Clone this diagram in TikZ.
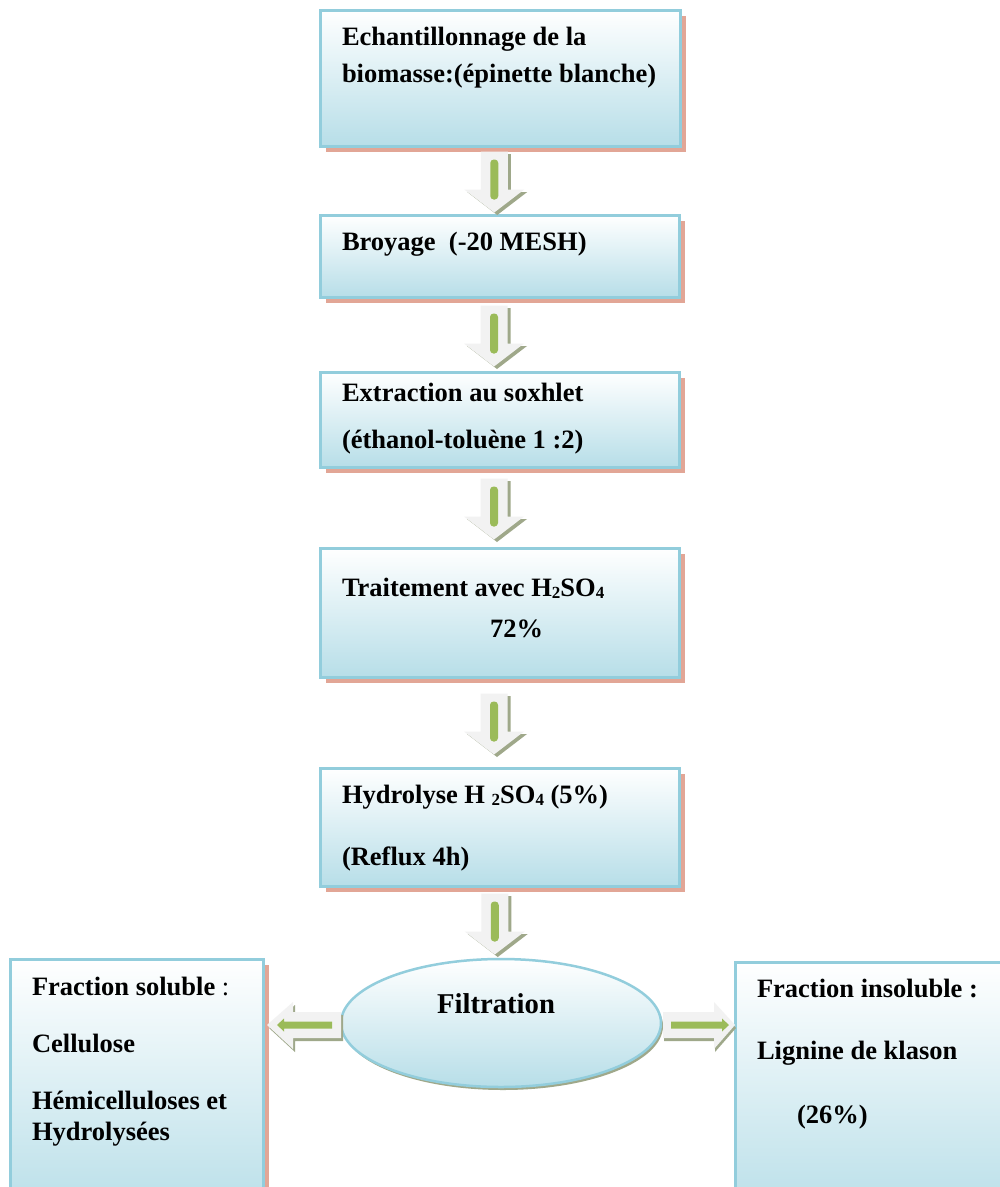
\documentclass[tikz,border=0pt]{standalone}
\usepackage{fontspec}
\setmainfont{Liberation Serif}
\usetikzlibrary{calc,shadows,shapes.geometric}
\definecolor{boxblue}{HTML}{B7DEE8}
\definecolor{boxborder}{HTML}{92CDDC}
\definecolor{boxshadow}{HTML}{E2A696}
\definecolor{arrbodyc}{HTML}{F2F2F2}
\definecolor{arrgreenc}{HTML}{9BBB59}
\definecolor{arrshadowc}{HTML}{9FA88A}
\newcommand\subd[1]{\raisebox{-2pt}{\fontsize{17}{17}\selectfont #1}}
\tikzset{
  pbox/.style={rectangle, draw=boxborder, line width=3pt, top color=white, bottom color=boxblue,
    outer sep=0pt, inner sep=0pt, anchor=north west,
    drop shadow={shadow xshift=5.5pt, shadow yshift=-5.5pt, fill=boxshadow, opacity=1}},
  txt/.style={font=\fontsize{26.5}{30}\selectfont\bfseries, anchor=base west, inner sep=0pt, outer sep=0pt},
  downarr/.pic={
    \fill[arrshadowc, shift={(3,2.5)}] (-13.5,-31) -- (13.5,-31) -- (13.5,7) -- (30,7) -- (0,30) -- (-30,7) -- (-13.5,7) -- cycle;
    \fill[arrbodyc] (-13.5,-31) -- (13.5,-31) -- (13.5,7) -- (30,7) -- (0,30) -- (-30,7) -- (-13.5,7) -- cycle;
    \fill[arrgreenc, rounded corners=3.5pt] (-4,-23) rectangle (4,17);
  },
  leftarr/.pic={
    \fill[arrshadowc, shift={(2,3)}] (0,-11) -- (-48,-11) -- (-48,-21) -- (-74,2) -- (-48,26) -- (-48,15) -- (0,15) -- cycle;
    \fill[arrbodyc] (0,-11) -- (-48,-11) -- (-48,-21) -- (-74,2) -- (-48,26) -- (-48,15) -- (0,15) -- cycle;
    \fill[arrgreenc] (-9,-1.5) -- (-57,-1.5) -- (-57,-4.5) -- (-64,2) -- (-57,8.5) -- (-57,5.5) -- (-9,5.5) -- cycle;
  },
  rightarr/.pic={
    \fill[arrshadowc, shift={(1,3)}] (2,-11) -- (53,-11) -- (53,-21) -- (74,2) -- (53,26) -- (53,15) -- (2,15) -- cycle;
    \fill[arrbodyc] (2,-11) -- (53,-11) -- (53,-21) -- (74,2) -- (53,26) -- (53,15) -- (2,15) -- cycle;
    \fill[arrgreenc] (10,-1.5) -- (61,-1.5) -- (61,-4.5) -- (68,2) -- (61,8.5) -- (61,5.5) -- (10,5.5) -- cycle;
  }
}
\begin{document}
\begin{tikzpicture}[x=1pt,y=-1pt]
\useasboundingbox (0,0) rectangle (1000,1187);
\clip (0,0) rectangle (1000,1187);
\fill[white] (0,0) rectangle (1000,1187);

% process boxes
\node[pbox, minimum width=360pt, minimum height=136pt] (b1) at (320,10) {};
\node[pbox, minimum width=359pt, minimum height=82pt] (b2) at (320,215) {};
\node[pbox, minimum width=359pt, minimum height=95pt] (b3) at (320,372) {};
\node[pbox, minimum width=359pt, minimum height=129pt] (b4) at (320,548) {};
\node[pbox, minimum width=359pt, minimum height=118pt] (b5) at (320,768) {};
\node[ellipse, draw=boxborder, line width=2.5pt, top color=white, bottom color=boxblue,
  minimum width=320pt, minimum height=128pt, outer sep=0pt, inner sep=0pt,
  drop shadow={shadow xshift=2pt, shadow yshift=-3pt, fill=arrshadowc, opacity=1}] (ell) at (501,1023) {};
\node[pbox, minimum width=253pt, minimum height=260pt] (bl) at (10,959) {};
\node[pbox, minimum width=280pt, minimum height=260pt] (br) at (735,962) {};

% texts
\node[txt] (t1a) at (342,45) {Echantillonnage de la};
\node[txt] (t1b) at (342,82) {biomasse:(épinette blanche)};
\node[txt] (t2) at (342,250) {Broyage\ \ (-20 MESH)};
\node[txt] (t3a) at (342,401) {Extraction au soxhlet};
\node[txt] (t3b) at (342,448) {(éthanol-toluène 1 :2)};
\node[txt] (t4a) at (342,596) {Traitement avec H\subd{2}SO\subd{4}};
\node[txt] (t4b) at (490,637) {72\%};
\node[txt] (t5a) at (342,803) {Hydrolyse H \subd{2}SO\subd{4} (5\%)};
\node[txt] (t5b) at (342,865) {(Reflux 4h)};
\node[font=\fontsize{28.7}{32}\selectfont\bfseries, anchor=base, inner sep=0pt] (tf) at (496,1013) {Filtration};
\node[txt] (tla) at (32,995) {Fraction soluble {\mdseries:}};
\node[txt] (tlb) at (32,1052) {Cellulose};
\node[txt] (tlc) at (32,1109) {Hémicelluloses et};
\node[txt] (tld) at (32,1140) {Hydrolysées};
\node[txt] (tra) at (757,997) {Fraction insoluble :};
\node[txt] (trb) at (757,1059) {Lignine de klason};
\node[txt] (trc) at (797,1123) {(26\%)};

% block arrows
\pic at ($(b1.south)!0.5!(b2.north)+(-5.5,2)$) {downarr};
\pic at ($(b2.south)!0.5!(b3.north)+(-5.5,2)$) {downarr};
\pic at ($(b3.south)!0.5!(b4.north)+(-5.5,2)$) {downarr};
\pic at ($(b4.south)!0.5!(b5.north)+(-5.5,2)$) {downarr};
\pic at ($(b5.south)!0.5!(ell.north)+(-5.5,2)$) {downarr};
\pic at (ell.west) {leftarr};
\pic at (ell.east) {rightarr};
\end{tikzpicture}
\end{document}
